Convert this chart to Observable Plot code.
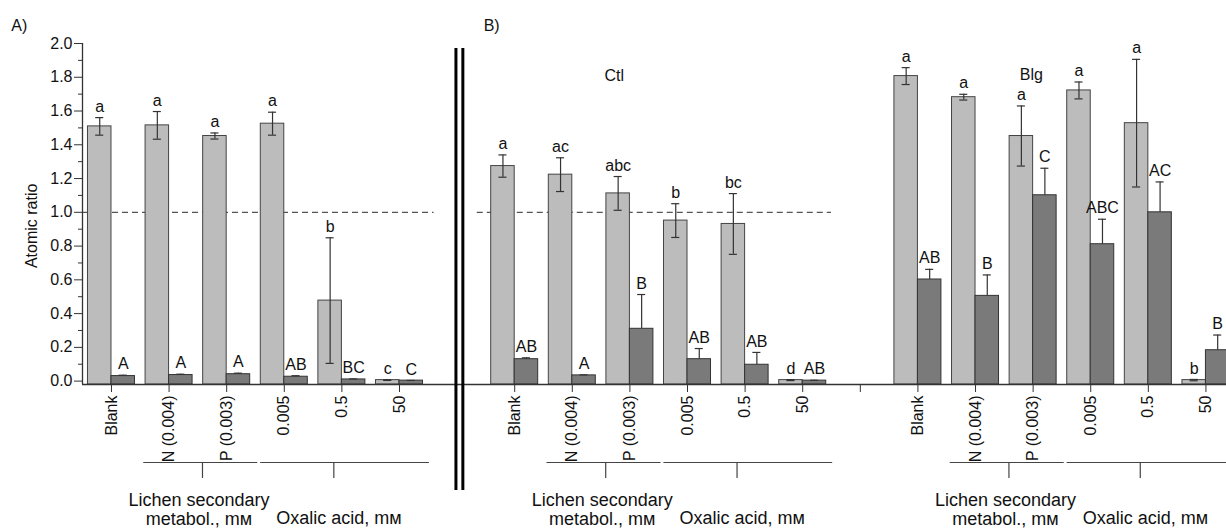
<!DOCTYPE html>
<html><head><meta charset="utf-8">
<script src="https://cdn.jsdelivr.net/npm/d3@7"></script>
<script src="https://cdn.jsdelivr.net/npm/@observablehq/plot@0.6"></script>
<style>
html,body{margin:0;padding:0;background:#fff;overflow:hidden}
svg{display:block}
</style>
</head><body><div id="chart"></div>
<script>
// ---- categories ----
const treatments = ["Blank", "N (0.004)", "P (0.003)", "0.005", "0.5", "50"];
const panels = ["A", "Ctl", "Blg"];
const panelStart = [0, 7, 14];          // slot of the first treatment of each panel on the shared axis
const emptySlots = [13];                // tick without label between Ctl and Blg

// ---- panel A ----
const lightA     = [1.509, 1.515, 1.452, 1.525, 0.477, 0.006];
const lightAErr  = [0.052, 0.082, 0.018, 0.068, 0.372, 0.002];
const lightALab  = ["a", "a", "a", "a", "b", "c"];
const darkA      = [0.030, 0.036, 0.041, 0.026, 0.010, 0.003];
const darkAErr   = [0.005, 0.005, 0.006, 0.006, 0.003, 0.001];
const darkALab   = ["A", "A", "A", "AB", "BC", "C"];

// ---- panel B, Ctl ----
const lightCtl    = [1.274, 1.223, 1.112, 0.951, 0.931, 0.006];
const lightCtlErr = [0.066, 0.100, 0.100, 0.100, 0.180, 0.003];
const lightCtlLab = ["a", "ac", "abc", "b", "bc", "d"];
const darkCtl     = [0.130, 0.034, 0.310, 0.130, 0.097, 0.003];
const darkCtlErr  = [0.008, 0.003, 0.203, 0.063, 0.073, 0.002];
const darkCtlLab  = ["AB", "A", "B", "AB", "AB", "AB"];

// ---- panel B, Blg ----
const lightBlg    = [1.807, 1.682, 1.452, 1.722, 1.528, 0.006];
const lightBlgErr = [0.050, 0.017, 0.178, 0.050, 0.378, 0.004];
const lightBlgLab = ["a", "a", "a", "a", "a", "b"];
const darkBlg     = [0.602, 0.505, 1.101, 0.811, 1.000, 0.183];
const darkBlgErr  = [0.060, 0.124, 0.160, 0.148, 0.180, 0.090];
const darkBlgLab  = ["AB", "B", "C", "ABC", "AC", "B"];

const yTicks = [0, 0.2, 0.4, 0.6, 0.8, 1.0, 1.2, 1.4, 1.6, 1.8, 2.0];
const yMinorTicks = [0.1, 0.3, 0.5, 0.7, 0.9, 1.1, 1.3, 1.5, 1.7, 1.9];
const yLabel = "Atomic ratio";
const refValue = 1.0;

// ---- build table ----
const lights = [lightA, lightCtl, lightBlg], lightErrs = [lightAErr, lightCtlErr, lightBlgErr], lightLabs = [lightALab, lightCtlLab, lightBlgLab];
const darks = [darkA, darkCtl, darkBlg], darkErrs = [darkAErr, darkCtlErr, darkBlgErr], darkLabs = [darkALab, darkCtlLab, darkBlgLab];
const W = 0.408; // bar width in slot units
const rows = [];
panels.forEach((p, k) => {
  treatments.forEach((t, i) => {
    const pos = panelStart[k] + i;
    rows.push({panel: p, series: "light", pos, x1: pos - W, x2: pos, c: pos - W / 2,
      value: lights[k][i], lo: lights[k][i] - lightErrs[k][i], hi: lights[k][i] + lightErrs[k][i], label: lightLabs[k][i]});
    rows.push({panel: p, series: "dark", pos, x1: pos, x2: pos + W, c: pos + W / 2,
      value: darks[k][i], lo: darks[k][i], hi: darks[k][i] + darkErrs[k][i], label: darkLabs[k][i]});
  });
});
const lightRows = rows.filter(d => d.series === "light");
const darkRows = rows.filter(d => d.series === "dark");

const tickPos = [], tickName = new Map();
panelStart.forEach(s => treatments.forEach((t, i) => { tickPos.push(s + i); tickName.set(s + i, t); }));
emptySlots.forEach(s => { tickPos.push(s); tickName.set(s, ""); });

// ---- layout ----
const width = 1226, height = 529, mTop = 43, mBottom = 145, mLeft = 82;
const yMin = -0.02, yMax = 2.0;
const xMin = -0.503, xMax = 19.357;
const pxPerUnit = (height - mTop - mBottom) / (yMax - yMin);
const pxPerSlot = (width - mLeft) / (xMax - xMin);
const below = px => yMin - px / pxPerUnit;   // px below the x axis line
const above = px => yMax + px / pxPerUnit;   // px above the top of the frame
const leftOf = px => xMin - px / pxPerSlot;  // px left of the y axis line

const brackets = [];
const groupLabels = [];
panelStart.forEach(s => {
  brackets.push({from: s + 0.56, to: s + 2.54, tick: s + 1.58});
  brackets.push({from: s + 2.59, to: s + 5.52, tick: s + 3.86});
  groupLabels.push({x: s + 1.52, text: "Lichen secondary\nmetabol., m\u1D0D", y: below(125)});
  groupLabels.push({x: s + 3.95, text: "Oxalic acid, m\u1D0D", y: below(133)});
});
const refSpans = [{from: xMin, to: 5.6}, {from: 6.35, to: 12.5}];
const panelTitles = [{x: 8.73, y: 1.81, text: "Ctl"}, {x: 15.97, y: 1.815, text: "Blg"}];
const panelLetters = [{x: -1.6, y: above(18), text: "A)"}, {x: 6.6, y: above(18), text: "B)"}];
const breakLines = [5.98, 6.10];

const ink = "#111";
const chart = Plot.plot({
  width, height, marginTop: mTop, marginBottom: mBottom, marginLeft: mLeft, marginRight: 0,
  style: {fontFamily: "'Liberation Sans', Arial, Helvetica, sans-serif", fontSize: "16px", color: ink, background: "#fff"},
  x: {domain: [xMin, xMax], axis: null},
  y: {domain: [yMin, yMax], axis: null},
  marks: [
    // reference line
    Plot.ruleY(refSpans, {y: refValue, x1: "from", x2: "to", stroke: "#555", strokeWidth: 1.2, strokeDasharray: "6,4"}),
    // bars
    Plot.rect(lightRows, {x1: "x1", x2: "x2", y1: yMin, y2: "value", fill: "#bcbcbc", stroke: "#444", strokeWidth: 1}),
    Plot.ruleX(lightRows, {x: "c", y1: "lo", y2: "hi", stroke: "#333", strokeWidth: 1.2}),
    Plot.ruleY(lightRows, {y: "hi", x1: d => d.c - 0.07, x2: d => d.c + 0.07, stroke: "#333", strokeWidth: 1.2}),
    Plot.ruleY(lightRows, {y: "lo", x1: d => d.c - 0.07, x2: d => d.c + 0.07, stroke: "#333", strokeWidth: 1.2}),
    Plot.rect(darkRows, {x1: "x1", x2: "x2", y1: yMin, y2: "value", fill: "#7a7a7a", stroke: "#333", strokeWidth: 1}),
    Plot.ruleX(darkRows, {x: "c", y1: "lo", y2: "hi", stroke: "#333", strokeWidth: 1.2}),
    Plot.ruleY(darkRows, {y: "hi", x1: d => d.c - 0.07, x2: d => d.c + 0.07, stroke: "#333", strokeWidth: 1.2}),
    // significance letters
    Plot.text(rows, {x: "c", y: "hi", text: "label", dy: -11, fontSize: 16, fill: ink}),
    // axes
    Plot.ruleY([yMin], {stroke: "#333", strokeWidth: 1.3}),
    Plot.ruleX([xMin], {y1: yMin, y2: yMax, stroke: "#333", strokeWidth: 1.3}),
    Plot.axisY({ticks: yTicks, tickFormat: () => "", tickSize: 8, label: null, stroke: "#333"}),
    Plot.axisY({ticks: yMinorTicks, tickFormat: () => "", tickSize: 4, label: null, stroke: "#333"}),
    Plot.text(yTicks, {x: xMin, y: d => d, text: d3.format(".1f"), textAnchor: "end", dx: -10, fontSize: 16, fill: ink}),
    Plot.text([yLabel], {x: leftOf(51), y: (yMax + yMin) / 2 - 0.07, text: d => d, rotate: -90, fontSize: 16, fill: ink}),
    Plot.axisX({ticks: tickPos, tickFormat: d => tickName.get(d), tickRotate: -90, tickSize: 8, tickPadding: 3,
      fontSize: 16, label: null, stroke: "#333", color: ink}),
    // panel break
    Plot.ruleX(breakLines, {y1: above(-5), y2: below(106), stroke: "#000", strokeWidth: 3}),
    // group brackets
    Plot.ruleY(brackets, {y: below(78), x1: "from", x2: "to", stroke: "#444", strokeWidth: 1.2}),
    Plot.ruleX(brackets, {x: "tick", y1: below(78), y2: below(94), stroke: "#444", strokeWidth: 1.2}),
    Plot.text(groupLabels, {x: "x", y: "y", text: "text", fontSize: 18, lineHeight: 1.05, fill: ink}),
    // titles
    Plot.text(panelTitles, {x: "x", y: "y", text: "text", fontSize: 16, fill: ink}),
    Plot.text(panelLetters, {x: "x", y: "y", text: "text", fontSize: 16, fill: ink})
  ]
});
document.getElementById("chart").appendChild(chart);
</script>
</body></html>
